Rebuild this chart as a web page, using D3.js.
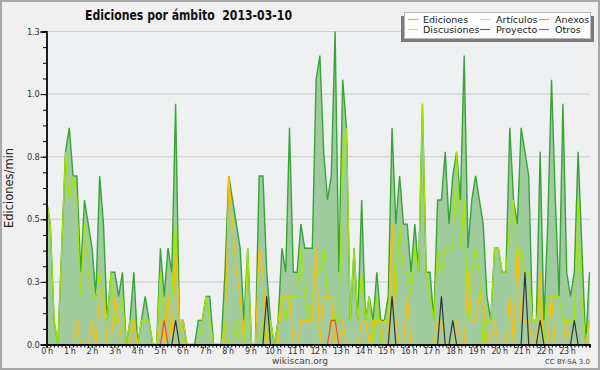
<!DOCTYPE html>
<html lang="es">
<head>
<meta charset="UTF-8">
<title>Ediciones por ámbito 2013-03-10</title>
<script src="https://cdn.jsdelivr.net/npm/d3@7"></script>
<style>
  body { margin: 0; background: #f0f0f0; }
  svg text { font-family: "DejaVu Sans", sans-serif; }
</style>
</head>
<body>
<script>
// ediciones por minuto, una muestra cada 10 minutos (00:00 .. 23:50)
var ediciones = [0.6,0.5,0.1,0,0.4,0.8,0.9,0.7,0.7,0.3,
  0.6,0.5,0.4,0.2,0.7,0.5,0.1,0.3,0.3,0.2,
  0.3,0,0.1,0.3,0,0.1,0.2,0.1,0,0,
  0.4,0.2,0.4,0.3,1.0,0.1,0.1,0,0,0,
  0.1,0.1,0.2,0.2,0,0,0,0.3,0.7,0.6,
  0.5,0.4,0.1,0.4,0,0,0.7,0.7,0.3,0.1,
  0,0.1,0.4,0.3,0.9,0.3,0.3,0.5,0.4,0.4,
  0.4,1.1,1.2,0.8,0.6,0.7,1.3,0.3,1.1,0.9,
  0.1,0.4,0.1,0.6,0.1,0.2,0.1,0.3,0.1,0.1,
  0.2,0.9,0.5,0.7,0.5,0.5,0.3,0.5,0.3,1.0,
  0.3,0.3,0.1,0.6,0.6,0.8,0.5,0.7,0.8,0.6,
  1.2,0.4,0.6,0.7,0.6,0.5,0.2,0.1,0.4,0.4,
  0.3,0.3,0.9,0.6,0.5,0.9,0.8,0.7,0.1,0.1,
  0.8,0.1,0.5,1.1,0.6,0.2,1.0,0.3,0.2,0.3,
  0.8,0.4,0,0.3];

var articulos = [0.6,0.5,0.1,0,0.4,0.8,0.6,0.7,0.6,0.2,
  0.5,0.3,0.2,0.2,0.3,0.2,0.1,0.3,0.1,0.1,
  0.2,0,0.1,0.1,0,0.1,0.1,0.1,0,0,
  0.3,0.1,0.2,0.2,0.5,0.1,0,0,0,0,
  0,0.1,0.2,0.1,0,0,0,0.1,0,0,
  0.1,0,0,0.4,0,0,0,0.1,0,0.1,
  0,0.1,0.2,0.1,0.2,0.2,0.2,0.4,0.2,0.1,
  0.2,0.3,0.3,0.4,0.2,0.2,0.1,0.1,0.8,0.9,
  0.1,0.4,0.1,0.3,0.1,0.2,0,0.2,0,0.1,
  0.1,0.5,0.2,0.5,0.3,0.3,0.2,0.4,0.3,1.0,
  0.3,0.2,0.1,0.4,0.3,0.4,0.4,0.4,0.8,0.4,
  0.6,0.1,0.3,0.4,0.3,0,0.1,0.1,0.4,0.4,
  0.3,0.3,0.5,0.6,0.3,0.4,0.3,0.3,0.1,0.1,
  0.2,0,0.2,0.2,0.2,0.2,0.1,0.1,0.1,0.1,
  0.6,0.2,0,0.1];

var discusiones = [0,0,0,0,0,0,0,0,0.1,0,
  0,0,0.1,0,0.2,0.2,0,0,0.2,0.1,
  0,0,0,0.1,0,0,0,0,0,0,
  0.1,0,0.2,0,0.4,0.1,0.1,0,0,0,
  0,0,0,0,0,0,0,0,0.7,0.5,
  0.3,0.2,0,0,0,0,0.4,0.3,0,0,
  0,0,0.2,0.2,0.2,0,0,0.1,0.1,0.1,
  0.1,0.4,0,0.2,0.2,0.2,0,0,0.1,0,
  0,0,0,0.1,0.1,0,0.1,0.1,0.1,0,
  0,0.5,0.1,0,0,0.2,0,0,0,0,
  0,0,0,0.1,0.1,0,0,0,0.1,0,
  0,0.3,0.1,0.1,0.2,0.2,0,0,0.1,0,
  0,0,0.2,0,0.4,0.1,0.1,0.1,0,0,
  0.3,0,0,0.2,0,0,0,0.1,0,0,
  0,0,0,0.1];

var anexos = [0,0,0,0,0,0,0,0,0,0,
  0,0,0,0,0,0,0,0,0,0,
  0,0,0,0,0,0,0,0,0,0,
  0,0.1,0,0,0,0,0,0,0,0,
  0,0,0,0,0,0,0,0,0,0,
  0,0,0,0,0,0,0,0,0,0,
  0,0,0,0,0,0,0,0,0,0,
  0,0,0,0,0,0.1,0.1,0,0,0,
  0,0,0,0,0,0,0,0,0,0,
  0,0,0,0,0,0,0,0,0,0,
  0,0,0,0,0,0,0,0,0,0,
  0,0,0,0,0,0,0,0,0,0,
  0,0,0,0,0,0,0,0,0,0,
  0,0,0,0,0,0,0,0,0,0,
  0,0,0,0];

var proyecto = [0,0,0,0,0,0,0,0,0,0,
  0,0,0,0,0,0,0,0,0,0,
  0,0,0,0,0,0,0,0,0,0,
  0,0,0,0,0.1,0,0,0,0,0,
  0,0,0,0,0,0,0,0,0,0,
  0,0,0,0,0,0,0,0,0.2,0,
  0,0,0,0,0,0,0,0,0,0,
  0,0,0,0,0,0,0,0,0,0,
  0,0,0,0,0,0,0,0,0,0,
  0,0.2,0,0,0,0,0,0,0,0,
  0,0,0,0,0.2,0,0,0.1,0,0,
  0,0,0,0,0,0,0,0,0,0,
  0,0,0,0,0,0,0.3,0,0,0,
  0.1,0,0,0,0,0,0,0,0,0.1,
  0,0,0,0];

var otros = []; // sin ediciones este día

var yTicks = [0, 0.26, 0.52, 0.78, 1.04, 1.3];
var hours = d3.range(24);
var legendNames = [["Ediciones", "Artículos", "Anexos"], ["Discusiones", "Proyecto", "Otros"]];
var legendColors = [["#8fcf8f", "#c6ec5a", "#ff8a5c"], ["#ffd24a", "#666666", "#9a55ff"]];

var width = 600, height = 370;
var pLeft = 46.5, pRight = 589.5, pTop = 31.5, pBottom = 344.5;

var svg = d3.select('body').append('svg').attr('width', width).attr('height', height);

svg.append('rect').attr('x', 1).attr('y', 1).attr('width', width - 2).attr('height', height - 2)
  .attr('fill', '#f0f0f0').attr('stroke', '#a8a8a8').attr('stroke-width', 2);
svg.append('rect').attr('x', pLeft).attr('y', pTop).attr('width', pRight - pLeft).attr('height', pBottom - pTop)
  .attr('fill', '#eef0f2');

var x = d3.scaleLinear().domain([0, ediciones.length - 1]).range([pLeft, pRight]);
var xMin = d3.scaleLinear().domain([0, 1440]).range([pLeft, pRight]);
var y = d3.scaleLinear().domain([0, 1.3]).range([pBottom, pTop]);

// rejilla
svg.append('g').selectAll('line').data(yTicks.slice(1)).enter().append('line')
  .attr('x1', pLeft).attr('x2', pRight).attr('y1', y).attr('y2', y)
  .attr('stroke', '#cbcbcb').attr('stroke-width', 1);

var area = d3.area().x(function(d, i){ return x(i) }).y0(pBottom).y1(function(d){ return y(d) });
var line = d3.line().x(function(d, i){ return x(i) }).y(function(d){ return y(d) });

svg.append('path').datum(ediciones).attr('d', area).attr('fill', '#9fcb9e');
svg.append('path').datum(ediciones).attr('d', line).attr('fill', 'none').attr('stroke', '#36a536').attr('stroke-width', 1.4);

var series = [[articulos, '#a4e600'], [discusiones, '#ffbe00'], [anexos, '#ff4d00'], [proyecto, '#333333'], [otros, '#8833ff']];
series.forEach(function(s){
  if (!s[0].length) return;
  svg.append('path').datum(s[0]).attr('d', line).attr('fill', 'none')
    .attr('stroke', s[1]).attr('stroke-width', 1.2);
});

// ejes
svg.append('g').attr('transform', 'translate(' + pLeft + ',0)')
  .call(d3.axisLeft(y).tickValues(yTicks).tickFormat(d3.format('.1f')).tickSize(6).tickPadding(1));
svg.append('g').attr('transform', 'translate(' + pLeft + ',0)')
  .call(d3.axisLeft(y).tickValues(d3.range(0, 1.3001, 0.065)).tickFormat('').tickSize(3.5));

svg.append('g').attr('transform', 'translate(0,' + pBottom + ')')
  .call(d3.axisBottom(xMin).tickValues(d3.range(0, 1441, 10)).tickFormat('').tickSize(3));
var xAxis = svg.append('g').attr('transform', 'translate(0,' + pBottom + ')')
  .call(d3.axisBottom(xMin).tickValues(hours.map(function(h){ return h * 60 }))
    .tickFormat(function(d){ return (d / 60) + ' h' }).tickSize(3).tickPadding(1));

svg.selectAll('.domain').attr('stroke', '#000').attr('stroke-width', 1.3);
svg.selectAll('.tick line').attr('stroke', '#000');
svg.selectAll('.tick text').attr('font-size', 8.3).attr('fill', '#333').attr('letter-spacing', -0.2)
  .style('font-family', '"DejaVu Sans", sans-serif');
xAxis.selectAll('.tick text').attr('font-size', 8).attr('letter-spacing', -0.4);

// textos
svg.append('text').attr('x', 85).attr('y', 20)
  .attr('font-size', 13.5).attr('font-weight', 'bold').attr('fill', '#111')
  .attr('textLength', 207).attr('lengthAdjust', 'spacingAndGlyphs')
  .attr('xml:space', 'preserve').text('Ediciones por ámbito  2013-03-10');

svg.append('text').attr('transform', 'translate(13,188) rotate(-90)').attr('text-anchor', 'middle')
  .attr('font-size', 11.5).attr('fill', '#222')
  .text('Ediciones/min');

svg.append('text').attr('x', 300).attr('y', 364).attr('text-anchor', 'middle')
  .attr('font-size', 9).attr('fill', '#444').text('wikiscan.org');
svg.append('text').attr('x', 590).attr('y', 364).attr('text-anchor', 'end')
  .attr('font-size', 7).attr('fill', '#444').text('CC BY-SA 3.0');

// leyenda
var lg = svg.append('g');
lg.append('rect').attr('x', 401).attr('y', 16).attr('width', 193).attr('height', 26).attr('fill', '#7a7a7a');
lg.append('rect').attr('x', 404.5).attr('y', 12.5).attr('width', 186).attr('height', 26)
  .attr('fill', '#fdfdfd').attr('stroke', '#b8b8b8');
var colX = [[408, 423], [480, 496], [539, 555]];
legendNames.forEach(function(row, r){
  row.forEach(function(name, c){
    var cy = 19.5 + r * 10;
    lg.append('line').attr('x1', colX[c][0]).attr('x2', colX[c][0] + 10).attr('y1', cy).attr('y2', cy)
      .attr('stroke', legendColors[r][c]).attr('stroke-width', 1.2);
    lg.append('text').attr('x', colX[c][1]).attr('y', cy + 3.5).attr('font-size', 9.5)
      .attr('fill', '#222').text(name);
  });
});
</script>
</body>
</html>
